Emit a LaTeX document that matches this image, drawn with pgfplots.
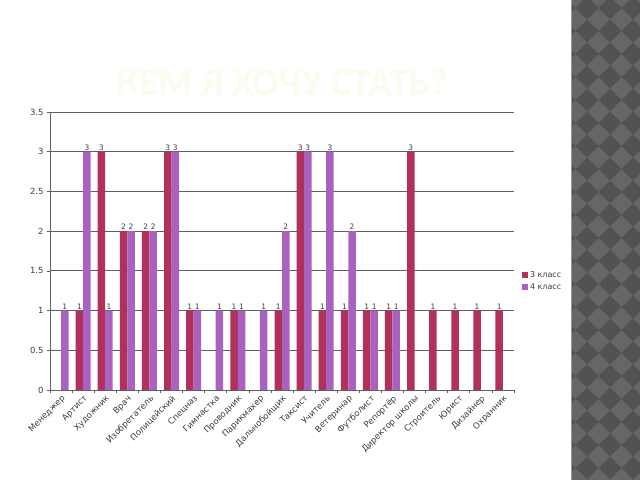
\documentclass[border=0pt]{standalone}
\usepackage{pgfplots}
\pgfplotsset{compat=1.18}
\usepackage{fontspec}
\setmainfont{DejaVu Sans}
\newfontfamily\titlefont{Carlito}
\definecolor{c3}{RGB}{178,48,92}
\definecolor{c4}{RGB}{170,98,192}
\definecolor{gridc}{RGB}{95,95,95}
\definecolor{txt}{RGB}{60,60,60}
\definecolor{ttl}{RGB}{252,251,240}
\definecolor{chkA}{RGB}{102,102,102}
\definecolor{chkB}{RGB}{82,82,82}
\begin{document}
\begin{tikzpicture}
\path[use as bounding box, fill=white] (0bp,0bp) rectangle (640bp,480bp);
\fill[chkA] (571bp,0bp) rectangle (640bp,480bp);
\begin{scope}[x=1bp,y=1bp]
\clip (571,0) rectangle (640,480);
\foreach \i in {0,...,4}{
  \foreach \j in {-1,...,21}{
    \fill[chkB] ({552.5+\i*23},{12+\j*23}) -- ++(11.5,11.5) -- ++(11.5,-11.5) -- ++(-11.5,-11.5) -- cycle;
  }
}
\end{scope}
\draw[color={rgb,255:red,150;green,150;blue,150}, line width=1.2bp] (571.6bp,0bp) -- (571.6bp,480bp);
\node[text=ttl, font=\titlefont\bfseries\fontsize{39}{42}\selectfont] at (283bp,398bp) {КЕМ Я ХОЧУ СТАТЬ?};
\begin{axis}[
  at={(50bp,90bp)}, anchor=south west,
  scale only axis, width=464bp, height=278bp,
  xmin=0.5, xmax=21.5, ymin=0, ymax=3.5,
  ytick={0,0.5,1,1.5,2,2.5,3,3.5},
  xtick={1,...,21},
  xticklabels={Менеджер,Артист,Художник,Врач,Изобретатель,Полицейский,Спецназ,Гимнастка,Проводник,Парикмахер,Дальнобойщик,Таксист,Учитель,Ветеринар,Футболист,Репортёр,Директор школы,Строитель,Юрист,Дизайнер,Охранник},
  minor xtick={0.5,1.5,...,21.5},
  axis x line*=bottom, axis y line*=left,
  axis line style={gridc, line width=0.8bp},
  ymajorgrids, major grid style={gridc, line width=0.8bp},
  tick align=outside, major tick length=3bp, minor tick length=3bp,
  major x tick style={draw=none},
  tick style={gridc, line width=0.7bp},
  /pgf/number format/assume math mode=true,
  yticklabel style={font=\fontsize{8.5}{10}\selectfont, text=txt},
  xticklabel style={rotate=45, anchor=north east, inner sep=1pt, font=\fontsize{8.5}{10}\selectfont, text=txt},
  ybar=0pt, bar width=7.5bp,
  nodes near coords,
  every node near coord/.append style={font=\fontsize{7.5}{8}\selectfont, text=txt, inner sep=1pt},
  legend style={at={(1.017,0.435)}, anchor=north west, draw=none, fill=none, font=\fontsize{8}{9}\selectfont, text=txt, row sep=1bp, inner sep=0pt, /tikz/every even column/.append style={column sep=2bp}},
  legend cell align=left,
  legend image code/.code={\fill[#1] (0bp,-3bp) rectangle (6bp,3bp);},
]
\addplot[fill=c3, draw=none] coordinates {(2,1)(3,3)(4,2)(5,2)(6,3)(7,1)(9,1)(11,1)(12,3)(13,1)(14,1)(15,1)(16,1)(17,3)(18,1)(19,1)(20,1)(21,1)};
\addplot[fill=c4, draw=none] coordinates {(1,1)(2,3)(3,1)(4,2)(5,2)(6,3)(7,1)(8,1)(9,1)(10,1)(11,2)(12,3)(13,3)(14,2)(15,1)(16,1)};
\legend{3 класс, 4 класс}
\end{axis}
\end{tikzpicture}
\end{document}
